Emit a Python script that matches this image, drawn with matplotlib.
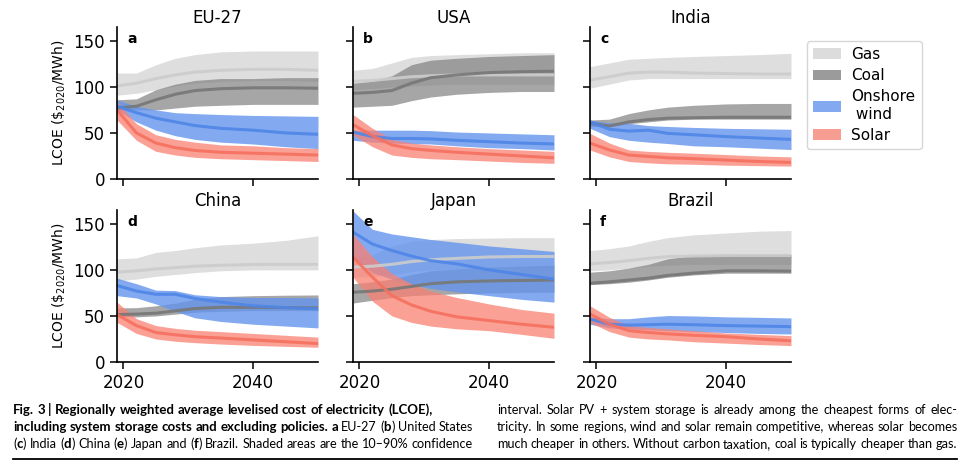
import matplotlib
matplotlib.use("Agg")
import matplotlib.pyplot as plt
from matplotlib.patches import Patch

W, H = 969, 467

years = [2019, 2022, 2025, 2028, 2031, 2035, 2040, 2045, 2050]

regions = ["EU-27", "USA", "India", "China", "Japan", "Brazil"]
letters = ["a", "b", "c", "d", "e", "f"]
techs = ["Gas", "Coal", "Onshore\n wind", "Solar"]

# (median, 10%, 90%) per technology, LCOE in $2020/MWh
eu27 = {
    "Gas": ([101, 104, 109, 113, 116, 118, 119, 119, 118],
            [91, 93, 97, 101, 104, 106, 107, 107, 106],
            [115, 115, 124, 131, 135, 138, 139, 139, 139]),
    "Coal": ([77, 79, 86, 92, 96, 98, 99, 99, 98.5],
             [75, 75, 75, 77, 79, 80, 81, 81, 81],
             [86, 87, 97, 103, 107, 109, 109, 110, 110]),
    "Wind": ([79, 72, 66, 62, 58, 55, 53, 50, 48.5],
             [75, 62, 53, 47, 43, 40, 38, 35, 33],
             [86, 79, 75, 72, 71, 70, 69, 68.5, 68]),
    "Solar": ([75, 50, 39, 34, 31, 29, 28, 27, 26],
              [64, 42, 30, 26, 23.5, 22, 21, 20, 19],
              [84, 60, 48, 43, 40, 37, 36, 34, 33]),
}
usa = {
    "Gas": ([106, 107, 109, 111, 112, 113, 113, 113, 113],
            [97, 98, 100, 101, 102, 103, 103, 103, 103],
            [118, 120, 126, 132, 134, 135, 136, 137, 137]),
    "Coal": ([93, 94, 96, 104, 110, 113, 115.5, 116.5, 117],
             [78, 79, 80, 85, 89, 92, 94, 95, 95],
             [104, 106, 112, 124, 129, 131, 133, 134, 135]),
    "Wind": ([51, 46, 44, 44, 43.5, 42, 40.5, 39, 38],
             [42, 40, 39, 38.5, 38, 36, 34, 33, 31.5],
             [53, 53, 53, 53, 52.5, 51, 50, 49, 48]),
    "Solar": ([59, 47, 37, 33, 31, 29, 27, 25, 23],
              [48, 35, 26, 23.5, 22, 21, 19.5, 18, 17],
              [70, 55, 43, 39, 37, 35, 33, 31.5, 30]),
}
india = {
    "Gas": ([107.5, 111, 115, 116, 116, 115, 114.5, 114, 114],
            [98.5, 103, 107.5, 109, 109, 109, 109, 109, 109],
            [122, 126, 130, 131, 132, 133, 134, 135, 136.5]),
    "Coal": ([60.5, 57.5, 62, 64.5, 66, 66.5, 67, 67, 67],
             [57, 57, 60, 62, 64, 65, 65, 65, 65],
             [64, 65, 71, 75, 78, 80, 81.5, 82, 82]),
    "Wind": ([62, 54, 52, 53, 49.5, 48, 46, 44.5, 43],
             [55, 46, 42, 40, 38.5, 36, 35, 33.5, 32],
             [64, 61, 60.5, 58, 57, 56, 55, 54.5, 54]),
    "Solar": ([39, 31.5, 26, 24.5, 23, 22, 20.5, 19, 18],
              [31.5, 24, 19, 17.5, 16.5, 16, 15, 14.5, 14],
              [49.5, 39, 31.5, 30, 29, 28, 26.5, 25, 24]),
}
china = {
    "Gas": ([97.5, 99, 101, 102.5, 104, 105, 105.8, 106, 106],
            [88, 90, 93, 95, 97, 99, 100, 100, 100],
            [112, 113, 119, 121, 124, 127, 129, 132, 137]),
    "Coal": ([51.5, 52, 53, 55.5, 58, 59.4, 59.4, 59, 58.7],
             [49, 49, 50, 52, 54, 55, 55.8, 55.8, 55.8],
             [58.7, 59, 61, 64, 68, 71, 72, 72.5, 72.8]),
    "Wind": ([83, 77, 73.5, 73.5, 69, 65, 61, 59, 57.6],
             [72, 69.5, 63, 55, 48, 44, 41, 39, 37],
             [91, 85, 78, 77.5, 73, 71, 70, 70, 69.6]),
    "Solar": ([51.5, 39.5, 32, 29.5, 27.5, 26, 24, 22, 20],
              [43, 31, 25, 22.5, 21, 19.5, 18, 17, 16],
              [65, 47, 39.5, 36.5, 34.5, 33, 31, 29, 27]),
}
japan = {
    "Gas": ([103, 104, 106, 109, 111, 112.5, 114, 114.5, 114.5],
            [92, 93, 95, 98, 100, 101, 102, 102, 102],
            [114, 116, 126, 131, 133, 134, 134.5, 135, 135]),
    "Coal": ([75.7, 77, 79, 82, 85, 87, 88, 88.5, 89],
             [64, 67, 70, 72, 73, 74, 75, 75.5, 75.7],
             [85, 87, 90, 95, 99, 101, 103, 104, 105]),
    "Wind": ([141, 128, 121, 115, 110, 106.5, 100, 95, 90],
             [114, 97, 90, 84, 80, 76, 72, 68, 65],
             [164, 144, 139, 136, 133, 130, 126, 123, 120]),
    "Solar": ([114, 92, 72, 62, 55, 49, 45, 41, 37.7],
              [92, 66, 50, 43, 39, 36, 34, 30, 25.7],
              [139, 114, 96, 85, 77, 70, 63, 57, 53]),
}
brazil = {
    "Gas": ([106.5, 108, 110, 112.5, 114.5, 115, 115.6, 115.6, 115.6],
            [99, 100, 102, 104, 105, 106, 106, 106, 106],
            [121, 123, 126, 131, 135, 138, 140, 142, 142.7]),
    "Coal": ([85.5, 87, 89, 91, 94, 96.5, 99, 99, 98.6],
             [84, 85, 86.6, 89, 92, 94.5, 96.4, 96.4, 96.4],
             [97.5, 99, 102, 106, 112, 115.6, 116.5, 116.7, 116.7]),
    "Wind": ([46.7, 41, 40, 40.5, 41, 40.5, 39.5, 39, 38.4],
             [41, 37, 36, 35, 34, 33, 32, 31, 30.4],
             [48.5, 47, 47, 49, 50.4, 50, 49, 48.5, 47.8]),
    "Solar": ([52, 41, 34, 32, 30.5, 29, 27.5, 25, 23],
              [43, 33, 27, 25, 24, 22, 20.5, 19, 17.8],
              [61, 48.5, 39.5, 37.5, 36, 34, 31.5, 30, 28.6]),
}
data = [eu27, usa, india, china, japan, brazil]

band_colors = {"Gas": "#d6d6d6", "Coal": "#808080", "Wind": "#6495ed", "Solar": "#fa8072"}
band_alpha = {"Gas": 0.8, "Coal": 0.7, "Wind": 0.8, "Solar": 0.75}
line_colors = {"Gas": "#cccccc", "Coal": "#777777", "Wind": "#4f86e8", "Solar": "#f6705f"}

fig = plt.figure(figsize=(W / 100, H / 100), dpi=100)

lefts = [117, 353, 590]
tops = [27, 210]
ax_w, ax_h = 201, 152

for i, (reg, d) in enumerate(zip(regions, data)):
    r, c = divmod(i, 3)
    ax = fig.add_axes([lefts[c] / W, 1 - (tops[r] + ax_h) / H, ax_w / W, ax_h / H])
    for k in ["Gas", "Coal", "Wind", "Solar"]:
        mid, lo, hi = d[k]
        ax.fill_between(years, lo, hi, color=band_colors[k], alpha=band_alpha[k], lw=0)
        ax.plot(years, mid, color=line_colors[k], lw=2.2, alpha=0.9)
    ax.set_xlim(2019, 2050)
    ax.set_ylim(0, 165)
    ax.set_xticks([2020, 2040])
    ax.set_yticks([0, 50, 100, 150])
    ax.spines["top"].set_visible(False)
    ax.spines["right"].set_visible(False)
    ax.tick_params(labelsize=12, width=1.1, length=5)
    for s in ["left", "bottom"]:
        ax.spines[s].set_linewidth(1.2)
    if c != 0:
        ax.set_yticklabels([])
    else:
        ax.set_ylabel(r"LCOE (\$$_{2020}$/MWh)", fontsize=10)
    if r == 0:
        ax.set_xticklabels([])
    ax.set_title(reg, fontsize=12, pad=3)
    ax.text(0.05, 0.97, letters[i], transform=ax.transAxes, fontsize=10,
            fontweight="bold", va="top", ha="left")

handles = [Patch(facecolor="#dcdcdc", edgecolor="none"),
           Patch(facecolor="#9b9b9b", edgecolor="none"),
           Patch(facecolor="#83a9f0", edgecolor="none"),
           Patch(facecolor="#f89d92", edgecolor="none")]
fig.legend(handles, techs, loc="upper left", bbox_to_anchor=(807 / W, 1 - 41 / H),
           fontsize=11, handlelength=1.8, frameon=True, edgecolor="#cccccc",
           labelspacing=0.4, borderpad=0.4, borderaxespad=0, handletextpad=0.7)

# caption
cap_font = "Lato"
size_bold = 9.5
size_reg = 9.1
left_lines = [
    ("*Fig. 3 | Regionally weighted average levelised cost of electricity (LCOE),*", False),
    ("*including system storage costs and excluding policies. a* EU-27 (*b*) United States", True),
    ("(*c*) India (*d*) China (*e*) Japan and (*f*) Brazil. Shaded areas are the 10\u201390% confidence", True),
]
right_lines = [
    ("interval. Solar PV + system storage is already among the cheapest forms of elec-", True),
    ("tricity. In some regions, wind and solar remain competitive, whereas solar becomes", True),
    ("much cheaper in others. Without carbon taxation, coal is typically cheaper than gas.", True),
]
baselines = [414, 431, 448]

renderer = fig.canvas.get_renderer()


def draw_column(lines, x0, x1):
    bold = False
    probe = fig.text(0, 0, "x x", fontsize=size_reg, family=cap_font)
    probe2 = fig.text(0, 0, "xx", fontsize=size_reg, family=cap_font)
    space = probe.get_window_extent(renderer).width - probe2.get_window_extent(renderer).width
    probe.remove()
    probe2.remove()
    for (line, justify), yb in zip(lines, baselines):
        words = []
        for w in line.split(" "):
            runs = []
            parts = w.split("*")
            for n, p in enumerate(parts):
                if n > 0:
                    bold = not bold
                if p:
                    t = fig.text(0, 1 - yb / H, p, family=cap_font,
                                 fontsize=size_bold if bold else size_reg,
                                 fontweight="bold" if bold else "normal", va="baseline")
                    runs.append((t, t.get_window_extent(renderer).width))
            words.append(runs)
        total = sum(wd for runs in words for _, wd in runs)
        gap = (x1 - x0 - total) / (len(words) - 1) if justify else space
        gap = max(gap, 0.6 * space)
        x = x0
        for runs in words:
            for t, wd in runs:
                t.set_x(x / W)
                x += wd
            x += gap


draw_column(left_lines, 13, 473)
draw_column(right_lines, 497, 957)

fig.add_artist(plt.Line2D([13 / W, 957 / W], [1 - 459 / H, 1 - 459 / H], color="black", lw=1.3))

fig.savefig("out.png", dpi=100)
